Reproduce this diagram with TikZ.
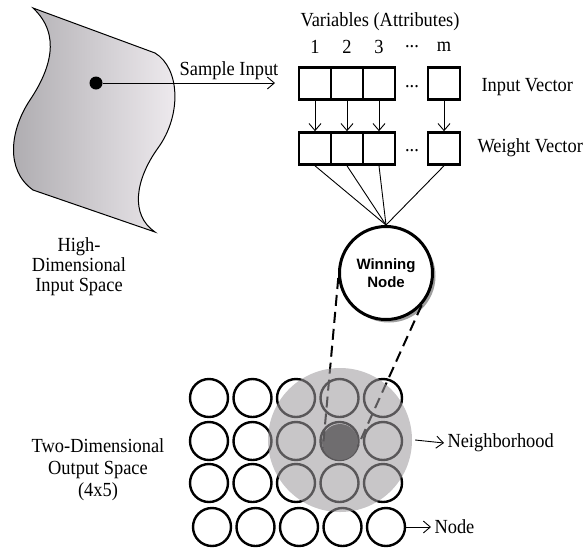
\documentclass[tikz,border=0pt]{standalone}
\usepackage{fontspec}
\setmainfont{Liberation Serif}[FakeStretch=0.92]
\newfontfamily\winfont{Liberation Sans}
\usetikzlibrary{arrows.meta,positioning,shadows}
\definecolor{BlobDark}{RGB}{172,170,174}
\definecolor{BlobLight}{RGB}{240,236,240}
\definecolor{HoodGray}{RGB}{158,154,158}

\begin{document}
\begin{tikzpicture}[x=1pt,y=-1pt,>={Straight Barb[length=7pt,width=12pt]},
    every node/.style={font=\fontsize{20}{20}\selectfont},
    cell/.style={draw,line width=2.6pt,minimum size=32pt,inner sep=0pt},
    unit/.style={circle,draw,line width=2.4pt,minimum size=38pt,inner sep=0pt},
    link/.style={line width=0.9pt},
    zoomline/.style={line width=2pt,dash pattern=on 11pt off 6pt}]
  \useasboundingbox (0,0) rectangle (588,547);

  % input space
  \draw[line width=1pt,left color=BlobDark,right color=BlobLight]
    (33,8) -- (155,53) .. controls (180,68) and (182,115) .. (158,148)
    .. controls (135,180) and (130,215) .. (155,232) -- (33,190)
    .. controls (5,170) and (10,130) .. (30,100)
    .. controls (50,70) and (62,35) .. (33,8) -- cycle;
  \node[circle,fill,minimum size=13pt,inner sep=0pt] (sample) at (96,83) {};
  \coordinate (feed) at (275,83);
  \draw[->,link] (sample) -- (feed);
  \node (samplelbl) at (229,71) {Sample Input};
  \node[align=center] (hidim) at (79,267) {High-\\Dimensional\\Input Space};

  % vectors
  \node (vars) at (380,22) {Variables (Attributes)};
  \foreach \i/\x in {1/315,2/347,3/379,m/444} {
    \node (n\i) at (\x,47) {\i};
    \node[cell] (in\i) at (\x,83.5) {};
    \node[cell] (w\i) at (\x,148.5) {};
    \draw[->,link] (in\i) -- (w\i);
  }
  \node (ndots) at (412,47) {...};
  \node (indots) at (412,87) {...};
  \node (wdots) at (412,151) {...};
  \node[anchor=west] (invec) at (478,87) {Input Vector};
  \node[anchor=west] (wvec) at (474,148) {Weight Vector};

  % winning node
  \node[circle,draw,line width=3pt,minimum size=93pt,fill=white,align=center,
    font=\winfont\bfseries\fontsize{15}{18}\selectfont,
    drop shadow={shadow xshift=3pt,shadow yshift=-3pt,fill=gray!75,opacity=1}]
    (win) at (386,273) {Winning\\Node};
  \foreach \i in {1,2,3,m}
    \draw[link] (w\i.south) -- (win.north);

  % output grid
  \foreach \r/\y/\s in {1/398/0,2/441/0,3/483/0,4/527/3}
    \foreach \c in {1,...,5}
      \node[unit] (g\r\c) at ({209+43.5*(\c-1)+\s},\y) {};
  \node[circle,fill=black!80,minimum size=36pt,inner sep=0pt] (best) at (340,442) {};
  \draw[zoomline] (win.186) -- (best.200);
  \draw[zoomline] (win.-42) -- (best.-15);
  \node[circle,fill=HoodGray,opacity=0.57,minimum size=144pt,inner sep=0pt]
    (hood) at (340,440) {};
  \node[align=center,font=\fontsize{20}{22}\selectfont] (lodim) at (98,470)
    {Two-Dimensional\\Output Space\\(4x5)};

  \node[anchor=west] (hoodlbl) at (444,443) {Neighborhood};
  \draw[->,link] ([xshift=3pt]hood.east) -- (hoodlbl.west);
  \node[anchor=west] (nodelbl) at (431,527) {Node};
  \draw[->,link] (g45.east) -- (nodelbl.west);
\end{tikzpicture}
\end{document}
